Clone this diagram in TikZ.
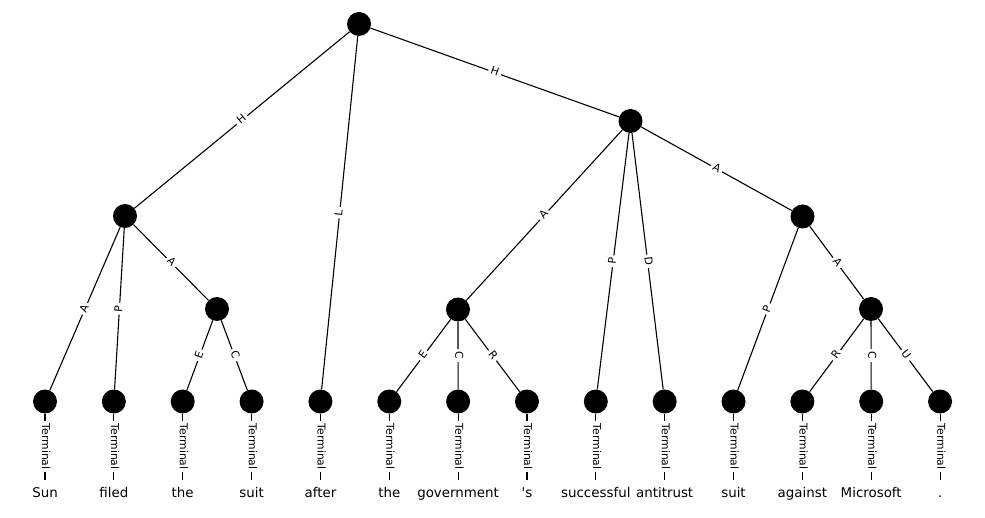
\documentclass[tikz,border=0pt]{standalone}
\usepackage{fontspec}
\setmainfont{DejaVu Sans}
\begin{document}
\begin{tikzpicture}[x=1pt,y=-1pt,
  vtx/.style={circle,fill=black,draw=none,minimum size=24pt,inner sep=0pt},
  wordpt/.style={circle,draw=none,minimum size=24pt,inner sep=0pt},
  wtext/.style={font=\fontsize{13.4}{15}\selectfont,text height=10.4pt,text depth=0pt,inner sep=0pt},
  conn/.style={line width=1.1pt},
  elab/.style={font=\fontsize{10.8}{12}\selectfont,fill=white,inner sep=2.6pt,
               text height=8.2pt,text depth=2.6pt,midway},
]
\useasboundingbox (0,0) rectangle (985,518);

% inner vertices
\node[vtx] (root) at (359,24) {};
\node[vtx] (r1)   at (630.5,121) {};
\node[vtx] (l1)   at (125,216) {};
\node[vtx] (r2)   at (802.5,216.5) {};
\node[vtx] (l2)   at (217,309) {};
\node[vtx] (m2)   at (458,309.5) {};
\node[vtx] (r3)   at (871,309) {};

% leaves and their words
\foreach \i/\w in {0/Sun,1/filed,2/the,3/suit,4/after,5/the,6/government,
                   7/\textquotesingle s,8/successful,9/antitrust,10/suit,
                   11/against,12/Microsoft,13/.}{
  \node[vtx] (t\i) at ({45+68.85*\i},401.5) {};
  \node[wordpt,label={[wtext]center:\w}] (w\i) at ({45+68.85*\i},492) {};
  \draw[conn] (t\i) -- node[elab,rotate=-90] {Terminal} (w\i);
}

% labelled edges
\draw[conn] (root) -- node[elab,sloped] {H} (l1);
\draw[conn] (root) -- node[elab,sloped] {L} (t4);
\draw[conn] (root) -- node[elab,sloped] {H} (r1);

\draw[conn] (l1) -- node[elab,sloped] {A} (t0);
\draw[conn] (l1) -- node[elab,sloped] {P} (t1);
\draw[conn] (l1) -- node[elab,sloped] {A} (l2);
\draw[conn] (l2) -- node[elab,sloped] {E} (t2);
\draw[conn] (l2) -- node[elab,sloped] {C} (t3);

\draw[conn] (r1) -- node[elab,sloped] {A} (m2);
\draw[conn] (r1) -- node[elab,sloped] {P} (t8);
\draw[conn] (r1) -- node[elab,sloped] {D} (t9);
\draw[conn] (r1) -- node[elab,sloped] {A} (r2);

\draw[conn] (m2) -- node[elab,sloped] {E} (t5);
\draw[conn] (m2) -- node[elab,rotate=-90] {C} (t6);
\draw[conn] (m2) -- node[elab,sloped] {R} (t7);

\draw[conn] (r2) -- node[elab,sloped] {P} (t10);
\draw[conn] (r2) -- node[elab,sloped] {A} (r3);

\draw[conn] (r3) -- node[elab,sloped] {R} (t11);
\draw[conn] (r3) -- node[elab,rotate=-90] {C} (t12);
\draw[conn] (r3) -- node[elab,sloped] {U} (t13);
\end{tikzpicture}
\end{document}
